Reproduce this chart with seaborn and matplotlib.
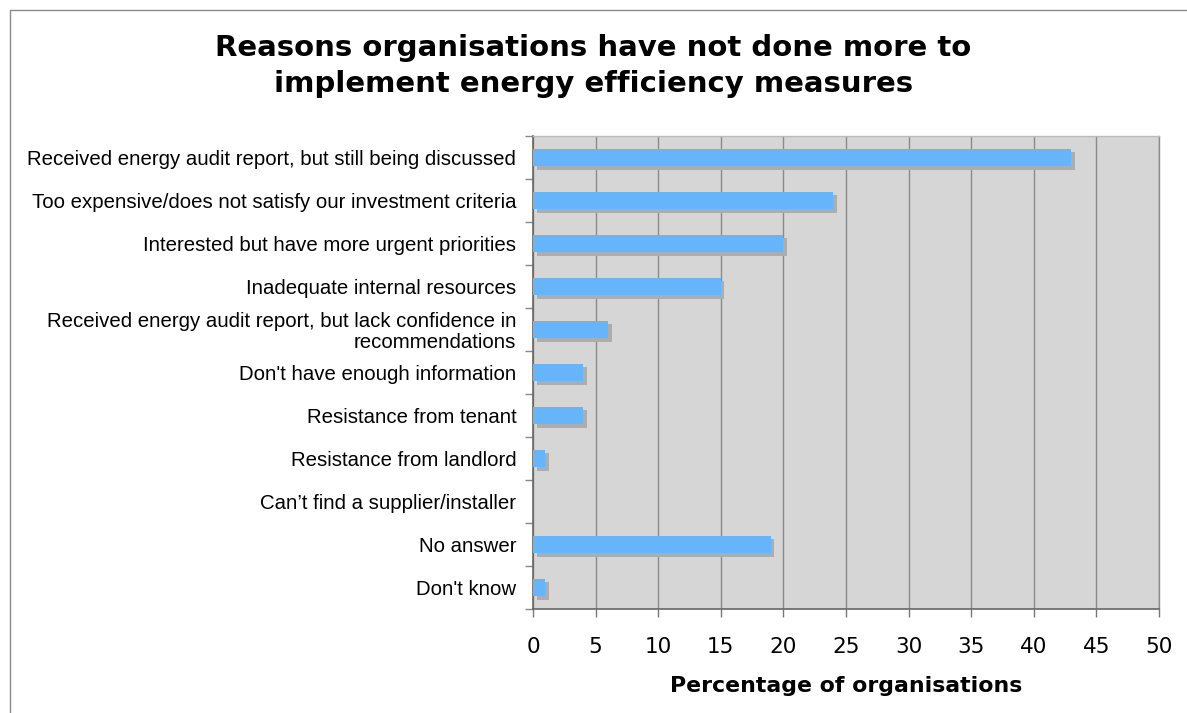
import matplotlib
matplotlib.use("Agg")
import matplotlib.pyplot as plt
import matplotlib.patheffects as pe
from matplotlib.lines import Line2D
import numpy as np
import pandas as pd
import seaborn as sns

reasons = [
    "Received energy audit report, but still being discussed",
    "Too expensive/does not satisfy our investment criteria",
    "Interested but have more urgent priorities",
    "Inadequate internal resources",
    "Received energy audit report, but lack confidence in\nrecommendations",
    "Don't have enough information",
    "Resistance from tenant",
    "Resistance from landlord",
    "Can\u2019t find a supplier/installer",
    "No answer",
    "Don't know",
]
percentages = [43, 24, 20, 15, 6, 4, 4, 1, 0, 19, 1]
x_ticks = [0, 5, 10, 15, 20, 25, 30, 35, 40, 45, 50]

df = pd.DataFrame({"reason": reasons, "pct": percentages})

sns.set_theme(style="white")
plt.rcParams["font.family"] = ["DejaVu Sans"]
plt.rcParams["text.color"] = "black"
plt.rcParams["axes.labelcolor"] = "black"
plt.rcParams["xtick.color"] = "black"
plt.rcParams["ytick.color"] = "black"

fig = plt.figure(figsize=(11.87, 7.13), dpi=100)
ax = fig.add_axes([0.449, 0.1459, 0.5274, 0.6634])
ax.set_facecolor("#d6d6d6")

sns.barplot(data=df, y="reason", x="pct", orient="h", color="#66b5fa",
            saturation=1, width=0.4, ax=ax, zorder=3)
for bar in ax.patches:
    bar.set_linewidth(0)
    bar.set_path_effects([
        pe.SimplePatchShadow(offset=(2.6, -2.6), shadow_rgbFace="#adadad", alpha=1.0),
        pe.Normal(),
    ])

ax.set_xlim(0, 50)
ax.set_ylim(len(reasons) - 0.5, -0.5)
ax.set_xticks(x_ticks)
ax.set_xticklabels([str(t) for t in x_ticks], fontsize=15.5, family="DejaVu Sans")
ax.grid(axis="x", color="#8a8a8a", linewidth=1.0, zorder=1)
ax.grid(axis="y", visible=False)
ax.set_axisbelow(True)

ax.set_yticks(range(len(reasons)))
ax.set_yticklabels(reasons, fontsize=14.7, family="Liberation Sans",
                   linespacing=1.1)
ax.set_yticks(np.arange(-0.5, len(reasons), 1.0), minor=True)
ax.tick_params(axis="y", which="major", length=0, pad=12, labelcolor="black")
ax.tick_params(axis="y", which="minor", length=6, width=1, color="#888888",
               direction="out", left=True)
ax.tick_params(axis="x", which="major", length=6, width=1, color="#777777",
               direction="out", bottom=True, pad=14, labelcolor="black")

ax.set_ylabel("")
ax.set_xlabel("Percentage of organisations", fontsize=15.8, fontweight="bold",
              labelpad=14, color="black")

for side in ("left", "bottom"):
    ax.spines[side].set_color("#666666")
    ax.spines[side].set_linewidth(1.2)
ax.spines["top"].set_color("#bbbbbb")
ax.spines["top"].set_linewidth(1.0)
ax.spines["right"].set_color("#8a8a8a")
ax.spines["right"].set_linewidth(1.0)

fig.text(0.5, 0.907,
         "Reasons organisations have not done more to\nimplement energy efficiency measures",
         ha="center", va="center", fontsize=21, fontweight="bold",
         linespacing=1.36, color="black")

# thin frame along the top and left of the figure
fig.add_artist(Line2D([10 / 1187, 1.0], [1 - 10 / 713, 1 - 10 / 713],
                      transform=fig.transFigure, color="#8a8a8a", linewidth=1))
fig.add_artist(Line2D([10 / 1187, 10 / 1187], [1 - 10 / 713, 0.0],
                      transform=fig.transFigure, color="#8a8a8a", linewidth=1))

fig.savefig("out.png", dpi=100, facecolor="white")
